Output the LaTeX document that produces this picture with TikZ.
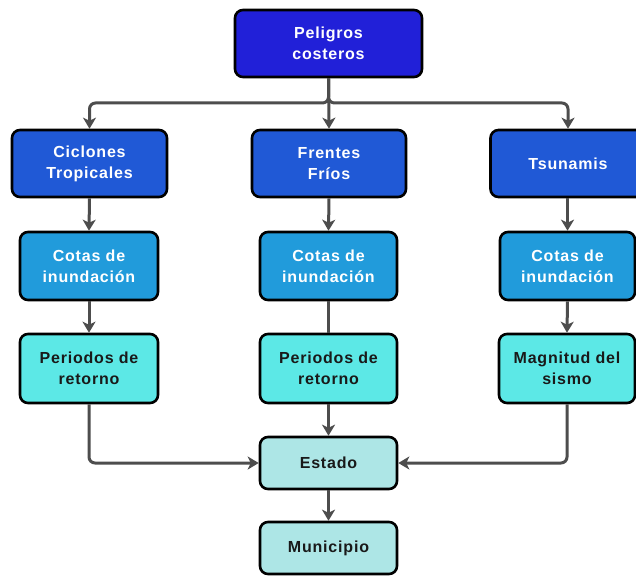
\documentclass[tikz,border=0pt]{standalone}
\usepackage{fontspec}
\setmainfont{Liberation Sans}[LetterSpace=5]
\usetikzlibrary{arrows.meta}
\definecolor{cTop}{RGB}{33,32,216}
\definecolor{cHaz}{RGB}{32,89,214}
\definecolor{cCota}{RGB}{33,155,219}
\definecolor{cPer}{RGB}{92,232,230}
\definecolor{cEst}{RGB}{173,230,230}
\definecolor{cLine}{RGB}{77,77,77}
\begin{document}
\begin{tikzpicture}[x=1pt,y=-1pt,
  box/.style={draw=black, line width=2.6pt, rounded corners=8pt, inner sep=0pt,
    align=center, font=\fontsize{16}{21}\selectfont\bfseries},
  wbox/.style={box, text=white},
  kbox/.style={box, text=black!90},
  link/.style={draw=cLine, line width=3pt, rounded corners=6pt},
  arr/.style={link, -{Stealth[length=11pt,width=13pt,inset=3pt]}}
]
\useasboundingbox (0,0) rectangle (636,575);

% top level
\node[wbox, fill=cTop, minimum width=187pt, minimum height=67pt] (top) at (328.5,43.5) {Peligros\\costeros};

% hazards
\node[wbox, fill=cHaz, minimum width=155pt, minimum height=67pt] (cic) at (89.5,163.5) {Ciclones\\Tropicales};
\node[wbox, fill=cHaz, minimum width=154pt, minimum height=67pt] (fre) at (329,163.5) {Frentes\\Fríos};
\node[wbox, fill=cHaz, minimum width=155pt, minimum height=67pt] (tsu) at (568,163.5) {Tsunamis};

% flood levels
\node[wbox, fill=cCota, minimum width=138pt, minimum height=68pt] (cot1) at (89,266) {Cotas de\\inundación};
\node[wbox, fill=cCota, minimum width=137pt, minimum height=68pt] (cot2) at (328.5,266) {Cotas de\\inundación};
\node[wbox, fill=cCota, minimum width=135pt, minimum height=68pt] (cot3) at (567.5,266) {Cotas de\\inundación};

% return periods / magnitude
\node[kbox, fill=cPer, minimum width=138pt, minimum height=69pt] (per1) at (89,368.5) {Periodos de\\retorno};
\node[kbox, fill=cPer, minimum width=137pt, minimum height=69pt] (per2) at (328.5,368.5) {Periodos de\\retorno};
\node[kbox, fill=cPer, minimum width=136pt, minimum height=69pt] (mag) at (567,368.5) {Magnitud del\\sismo};

% administrative levels
\node[kbox, fill=cEst, minimum width=137pt, minimum height=52pt] (est) at (328.5,463) {Estado};
\node[kbox, fill=cEst, minimum width=137pt, minimum height=52pt] (mun) at (328.5,548) {Municipio};

% branching from the top
\coordinate (split) at (328.5,103);
\draw[arr] (top.south) -- (split) -| (cic.north);
\draw[arr] (top.south) -- (split) -| (tsu.north);
\draw[arr] (top.south) -- (fre.north);

% columns
\draw[arr] (cic.south) -- (cot1.north);
\draw[arr] (fre.south) -- (cot2.north);
\draw[arr] (tsu.south -| cot3.north) -- (cot3.north);
\draw[arr] (cot1.south) -- (per1.north);
\draw[link] (cot2.south) -- (per2.north);
\draw[arr] (cot3.south) -- (mag.north);

% convergence on Estado
\draw[arr] (per1.south) |- (est.west);
\draw[arr] (mag.south) |- (est.east);
\draw[arr] (per2.south) -- (est.north);
\draw[arr] (est.south) -- (mun.north);
\end{tikzpicture}
\end{document}
